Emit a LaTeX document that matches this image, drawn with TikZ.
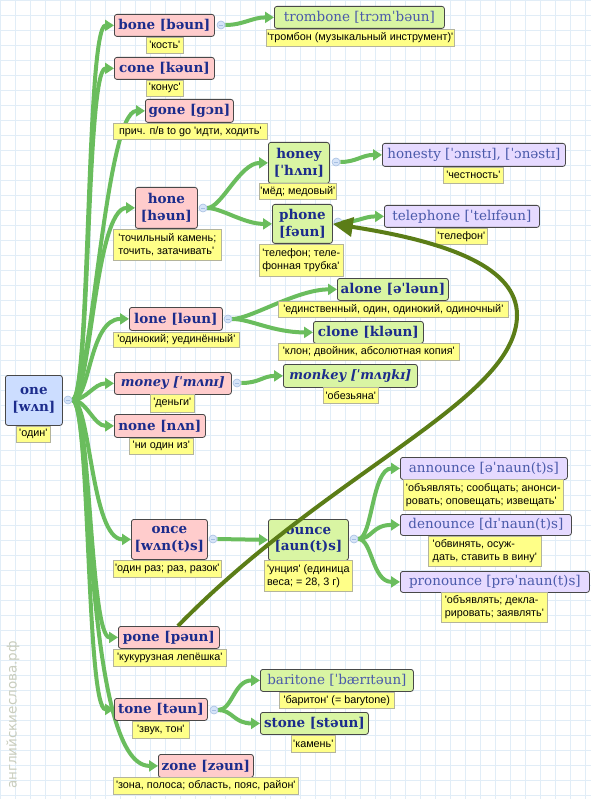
\documentclass[tikz,border=0pt]{standalone}
\usepackage{fontspec}
\setmainfont{Liberation Sans}
\newfontfamily\wordfont{DejaVu Serif}
\newfontfamily\glossfont[Ligatures=TeXOff]{Liberation Sans}
\newfontfamily\markfont{DejaVu Sans}
\usepackage{tikz}
\usetikzlibrary{arrows.meta}
\pgfdeclarelayer{papier}
\pgfdeclarelayer{faden}
\pgfsetlayers{papier,faden,main}
\definecolor{linkg}{HTML}{6ABD5D}
\definecolor{oliv}{HTML}{5B7D17}
\definecolor{rosa}{HTML}{FFCCCC}
\definecolor{gruen}{HTML}{D9F5A3}
\definecolor{lila}{HTML}{E6DAFF}
\definecolor{blau}{HTML}{CCDDFF}
\definecolor{gelb}{HTML}{FFFF88}
\definecolor{glossd}{HTML}{B4B49C}
\definecolor{tinte}{HTML}{1C2C8C}
\definecolor{tintel}{HTML}{4A5AAA}
\definecolor{rand}{HTML}{484848}
\definecolor{netz}{HTML}{E1EDF7}
\definecolor{marke}{HTML}{C9CDBD}
\definecolor{knobl}{HTML}{D6E4F8}
\definecolor{knobd}{HTML}{A6BFE2}

\begin{document}
\begin{tikzpicture}[x=1pt,y=-1pt,
  word/.style={draw=rand,line width=0.8pt,rounded corners=2.5pt,anchor=north west,inner sep=1pt,align=center,text=tinte,font=\wordfont\bfseries\fontsize{13.5}{16.5}\selectfont},
  pinkw/.style={word,fill=rosa},
  greenw/.style={word,fill=gruen},
  lilaw/.style={word,fill=lila},
  bluew/.style={word,fill=blau},
  light/.style={text=tintel,font=\wordfont\fontsize{13.5}{16}\selectfont},
  slant/.style={font=\wordfont\bfseries\itshape\fontsize{13}{16}\selectfont},
  gloss/.style={draw=glossd,line width=0.6pt,fill=gelb,anchor=north west,inner sep=0.8pt,align=left,font=\glossfont\fontsize{10.8}{13}\selectfont},
  knob/.style={circle,draw=knobd,fill=knobl,line width=0.6pt,minimum size=8pt,inner sep=0pt,
    path picture={\draw[knobd,line width=0.7pt] ([xshift=-2pt]path picture bounding box.center) -- ([xshift=2pt]path picture bounding box.center);}},
  link/.style={linkg,line width=4pt,-{Triangle[length=9pt,width=11pt]}},
  back/.style={oliv,line width=4pt,-{Triangle[length=20pt,width=19pt]}}]
  \useasboundingbox (0,0) rectangle (591,799);
  \begin{pgfonlayer}{papier}
    \fill[white] (0,0) rectangle (591,799);
    \draw[netz,line width=0.5pt,step=15pt] (0pt,0pt) grid (591pt,-799pt);
    \node[rotate=90,text=marke,font=\markfont\fontsize{13.5}{13.5}\selectfont] (mark) at (13,715) {английскиеслова.рф};
  \end{pgfonlayer}

  % words
  \node[bluew,minimum width=57,minimum height=50] (one) at (5,375) {one\\{[wʌn]}};
  \node[pinkw,minimum width=100,minimum height=22] (bone) at (114,14) {bone [bəun]};
  \node[greenw,light,minimum width=170,minimum height=22] (trombone) at (274,6) {trombone [trɔmˈbəun]};
  \node[pinkw,minimum width=100,minimum height=22] (cone) at (114,57) {cone [kəun]};
  \node[pinkw,minimum width=88,minimum height=23] (gone) at (145,99) {gone [gɔn]};
  \node[pinkw,minimum width=62,minimum height=41] (hone) at (135,187) {hone\\{[həun]}};
  \node[greenw,minimum width=61,minimum height=41] (honey) at (268,142) {honey\\{[ˈhʌnɪ]}};
  \node[lilaw,light,minimum width=183,minimum height=23] (honesty) at (382,143) {honesty [ˈɔnɪstɪ], [ˈɔnəstɪ]};
  \node[greenw,minimum width=60,minimum height=39] (phone) at (272,204) {phone\\{[fəun]}};
  \node[lilaw,light,minimum width=155,minimum height=22] (telephone) at (384,205) {telephone [ˈtelɪfəun]};
  \node[pinkw,minimum width=93,minimum height=23] (lone) at (129,307) {lone [ləun]};
  \node[greenw,minimum width=111,minimum height=22] (alone) at (337,278) {alone [əˈləun]};
  \node[greenw,minimum width=110,minimum height=22] (clone) at (313,321) {clone [kləun]};
  \node[pinkw,slant,minimum width=117,minimum height=22] (money) at (114,372) {money [ˈmʌnɪ]};
  \node[greenw,slant,minimum width=134,minimum height=23] (monkey) at (283,364) {monkey [ˈmʌŋkɪ]};
  \node[pinkw,minimum width=91,minimum height=23] (none) at (114,414) {none [nʌn]};
  \node[pinkw,minimum width=76,minimum height=40] (once) at (131,519) {once\\{[wʌn(t)s]}};
  \node[greenw,minimum width=80,minimum height=41] (ounce) at (268,519) {ounce\\{[aun(t)s]}};
  \node[lilaw,light,minimum width=167,minimum height=22] (announce) at (400,457) {announce [əˈnaun(t)s]};
  \node[lilaw,light,minimum width=171,minimum height=21] (denounce) at (400,514) {denounce [dɪˈnaun(t)s]};
  \node[lilaw,light,minimum width=189,minimum height=21] (pronounce) at (400,571) {pronounce [prəˈnaun(t)s]};
  \node[pinkw,minimum width=101,minimum height=22] (pone) at (118,626) {pone [pəun]};
  \node[pinkw,minimum width=93,minimum height=22] (tone) at (114,698) {tone [təun]};
  \node[greenw,light,minimum width=153,minimum height=22] (baritone) at (260,669) {baritone [ˈbærɪtəun]};
  \node[greenw,minimum width=108,minimum height=22] (stone) at (260,712) {stone [stəun]};
  \node[pinkw,minimum width=95,minimum height=23] (zone) at (158,754) {zone [zəun]};

  % glosses
  \node[gloss,minimum width=34,minimum height=16] (oneg) at (16,426) {'один'};
  \node[gloss,minimum width=37,minimum height=16] (boneg) at (146,37) {'кость'};
  \node[gloss,minimum width=188,minimum height=17] (tromboneg) at (266,29) {'тромбон (музыкальный инструмент)'};
  \node[gloss,minimum width=37,minimum height=16] (coneg) at (146,80) {'конус'};
  \node[gloss,minimum width=154,minimum height=16] (goneg) at (113,123) {прич. п/в to go 'идти, ходить'};
  \node[gloss,minimum width=108,minimum height=31] (honeg) at (113,229) {'точильный камень;\\точить, затачивать'};
  \node[gloss,minimum width=77,minimum height=16] (honeyg) at (259,183) {'мёд; медовый'};
  \node[gloss,minimum width=60,minimum height=16] (honestyg) at (443,167) {'честность'};
  \node[gloss,minimum width=84,minimum height=32] (phoneg) at (259,244) {'телефон; теле-\\фонная трубка'};
  \node[gloss,minimum width=52,minimum height=16] (telephoneg) at (435,228) {'телефон'};
  \node[gloss,minimum width=126,minimum height=15] (loneg) at (113,332) {'одинокий; уединённый'};
  \node[gloss,minimum width=230,minimum height=16] (aloneg) at (278,301) {'единственный, один, одинокий, одиночный'};
  \node[gloss,minimum width=181,minimum height=17] (cloneg) at (278,343) {'клон; двойник, абсолютная копия'};
  \node[gloss,minimum width=44,minimum height=18] (moneyg) at (150,394) {'деньги'};
  \node[gloss,minimum width=55,minimum height=16] (monkeyg) at (323,387) {'обезьяна'};
  \node[gloss,minimum width=64,minimum height=16] (noneg) at (129,438) {'ни один из'};
  \node[gloss,minimum width=108,minimum height=17] (onceg) at (113,560) {'один раз; раз, разок'};
  \node[gloss,minimum width=88,minimum height=31] (ounceg) at (264,560) {'унция' (единица\\веса; = 28, 3 г)};
  \node[gloss,minimum width=160,minimum height=31] (announceg) at (403,479) {'объявлять; сообщать; анонси-\\ровать; оповещать; извещать'};
  \node[gloss,minimum width=113,minimum height=30] (denounceg) at (428,536) {'обвинять, осуж-\\дать, ставить в вину'};
  \node[gloss,minimum width=106,minimum height=30] (pronounceg) at (441,592) {'объявлять; декла-\\рировать; заявлять'};
  \node[gloss,minimum width=113,minimum height=17] (poneg) at (113,649) {'кукурузная лепёшка'};
  \node[gloss,minimum width=57,minimum height=17] (toneg) at (132,721) {'звук, тон'};
  \node[gloss,minimum width=115,minimum height=16] (baritoneg) at (279,692) {'баритон' (= barytone)};
  \node[gloss,minimum width=44,minimum height=17] (stoneg) at (291,735) {'камень'};
  \node[gloss,minimum width=185,minimum height=17] (zoneg) at (113,777) {'зона, полоса; область, пояс, район'};

  % knobs
  \node[knob] (onek) at (68,400) {};
  \node[knob] (bonek) at (221,25) {};
  \node[knob] (honek) at (203,208) {};
  \node[knob] (honeyk) at (336,162) {};
  \node[knob] (phonek) at (338,222) {};
  \node[knob] (lonek) at (228,319) {};
  \node[knob] (moneyk) at (237,383) {};
  \node[knob] (oncek) at (213,539) {};
  \node[knob] (ouncek) at (354,539) {};
  \node[knob] (tonek) at (214,710) {};

  % links, under the boxes
  \begin{pgfonlayer}{faden}
  \draw[link] (onek.east) .. controls +(18,0) and +(-28,0) .. (bone.west);
  \draw[link] (onek.east) .. controls +(18,0) and +(-28,0) .. (cone.west);
  \draw[link] (onek.east) .. controls +(18,0) and +(-40,0) .. (gone.west);
  \draw[link] (onek.east) .. controls +(18,0) and +(-40,0) .. (hone.west);
  \draw[link] (onek.east) .. controls +(18,0) and +(-40,0) .. (lone.west);
  \draw[link] (onek.east) .. controls +(14,0) and +(-20,0) .. (money.west);
  \draw[link] (onek.east) .. controls +(14,0) and +(-20,0) .. (none.west);
  \draw[link] (onek.east) .. controls +(18,0) and +(-40,0) .. (once.west);
  \draw[link] (onek.east) .. controls +(18,0) and +(-28,0) .. (pone.west);
  \draw[link] (onek.east) .. controls +(18,0) and +(-28,0) .. (tone.west);
  \draw[link] (onek.east) .. controls +(20,0) and +(-75,0) .. (zone.west);
  \draw[link] (bonek.east) .. controls +(18,0) and +(-22,0) .. (trombone.west);
  \draw[link] (honek.east) .. controls +(14,0) and +(-28,0) .. (honey.west);
  \draw[link] (honek.east) .. controls +(14,0) and +(-28,0) .. (phone.west);
  \draw[link] (honeyk.east) .. controls +(16,0) and +(-20,0) .. (honesty.west);
  \draw[link] (phonek.east) .. controls +(16,0) and +(-20,0) .. (telephone.west);
  \draw[link] (lonek.east) .. controls +(18,0) and +(-40,0) .. (alone.west);
  \draw[link] (lonek.east) .. controls +(18,0) and +(-40,0) .. (clone.west);
  \draw[link] (moneyk.east) .. controls +(18,0) and +(-20,0) .. (monkey.west);
  \draw[link] (oncek.east) -- (ounce.west);
  \draw[link] (ouncek.east) .. controls +(14,0) and +(-28,0) .. (announce.west);
  \draw[link] (ouncek.east) .. controls +(14,0) and +(-28,0) .. (denounce.west);
  \draw[link] (ouncek.east) .. controls +(14,0) and +(-28,0) .. (pronounce.west);
  \draw[link] (tonek.east) .. controls +(14,0) and +(-26,0) .. (baritone.west);
  \draw[link] (tonek.east) .. controls +(14,0) and +(-26,0) .. (stone.west);
  \end{pgfonlayer}

  % back reference pone -> phone
  \draw[back] ([xshift=9pt]pone.north) .. controls (330,470) and (517,400) .. (517,315)
    .. controls (517,268) and (450,242) .. (phone.east);
\end{tikzpicture}
\end{document}
